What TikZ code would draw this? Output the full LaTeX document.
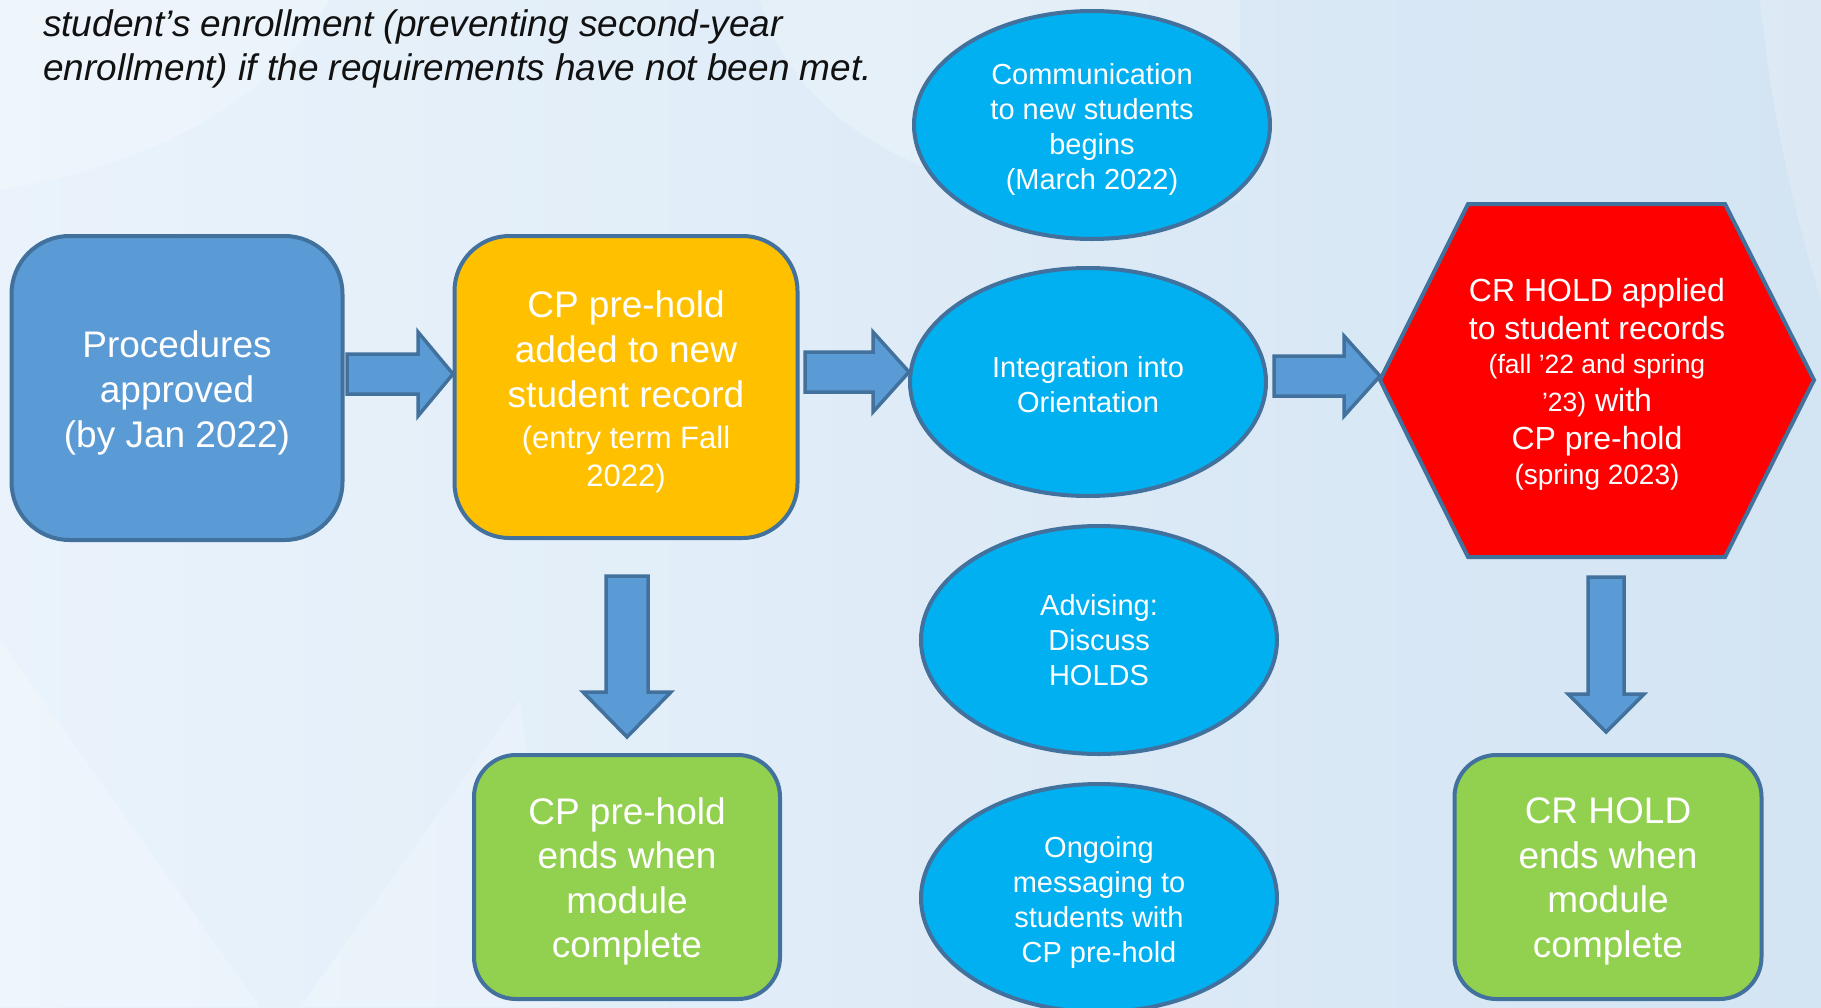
\documentclass[tikz,border=0pt]{standalone}
\usepackage{fontspec}
\setmainfont{Liberation Sans}
\usetikzlibrary{shapes.geometric}
\definecolor{bgA}{HTML}{EAF3FB}
\definecolor{bgB}{HTML}{D3E4F3}
\definecolor{edge}{HTML}{41719C}
\definecolor{boxblue}{HTML}{5B9BD5}
\definecolor{boxyellow}{HTML}{FFC000}
\definecolor{ellblue}{HTML}{00B0F0}
\definecolor{hexred}{HTML}{FF0000}
\definecolor{boxgreen}{HTML}{92D050}
\definecolor{notetext}{HTML}{111111}
\begin{document}
\begin{tikzpicture}[x=1pt,y=-1pt,
  base/.style={draw=edge, line width=4pt, inner sep=0pt},
  rbox/.style={base, rectangle, rounded corners=#1},
  oval/.style={base, ellipse, fill=ellblue, minimum width=356pt, minimum height=228pt},
  txt/.style={text=white, align=center, inner sep=0pt},
  ovaltext/.style={txt, font=\fontsize{29}{35}\selectfont},
  bigtext/.style={txt, font=\fontsize{37}{45}\selectfont},
  blockarrow/.style={draw=edge, line width=3.5pt, fill=boxblue, line join=miter},
  wash/.style={fill=white, opacity=0.22}
]
% background
\useasboundingbox (0,0) rectangle (1821,1007);
\shade[left color=bgA, right color=bgB] (0,0) rectangle (1821,1007);
\fill[wash] (0,0) -- (330,0) .. controls (260,120) and (120,170) .. (0,190) -- cycle;
\fill[wash] (760,0) .. controls (800,150) and (1000,230) .. (1240,200) -- (1240,0) -- cycle;
\fill[wash] (0,640) -- (260,1007) -- (0,1007) -- cycle;
\fill[wash] (300,1007) -- (520,700) -- (560,1007) -- cycle;
\fill[wash] (1760,0) -- (1821,0) -- (1821,300) .. controls (1790,200) and (1770,100) .. (1760,0) -- cycle;

% note
\node[anchor=base west, align=left, inner sep=0pt, text=notetext,
  font=\itshape\fontsize{37}{44}\selectfont] (note) at (43,80)
  {student’s enrollment (preventing second-year\\enrollment) if the requirements have not been met.};

% boxes
\node[rbox=58pt, fill=boxblue, minimum width=331pt, minimum height=304pt] (proc) at (177,388) {};
\node[bigtext] (proctext) at ([yshift=-4.5pt]proc.center)
  {Procedures\\approved\\(by Jan 2022)};
\node[rbox=55pt, fill=boxyellow, minimum width=343pt, minimum height=302pt] (prehold) at (626,387) {};
\node[bigtext] (preholdtext) at ([yshift=-4.5pt]prehold.center)
  {CP pre-hold\\added to new\\student record\\[-4pt]{\fontsize{31}{38}\selectfont (entry term Fall}\\[-7pt]{\fontsize{31}{38}\selectfont 2022)}};

% ellipses
\node[oval] (comm) at (1092,125) {};
\node[ovaltext] (commtext) at ([yshift=-4.5pt]comm.center) {Communication\\to new students\\begins\\(March 2022)};
\node[oval] (orient) at (1088,382) {};
\node[ovaltext] (orienttext) at ([yshift=-3pt]orient.center) {Integration into\\Orientation};
\node[oval] (advise) at (1099,640) {};
\node[ovaltext] (advisetext) at (advise.center) {Advising:\\Discuss\\HOLDS};
\node[oval] (ongoing) at (1099,898) {};
\node[ovaltext] (ongoingtext) at ([yshift=-4pt]ongoing.center) {Ongoing\\messaging to\\students with\\CP pre-hold};

% hexagon
\draw[draw=edge, line width=4pt, fill=hexred, line join=miter]
  (1380,380) -- (1468,204) -- (1725,204) -- (1814,380) -- (1725,557) -- (1468,557) -- cycle;
\node[txt, font=\fontsize{32}{38}\selectfont] (crhold) at (1597,384.5)
  {CR HOLD applied\\to student records\\[-4pt]{\fontsize{26.5}{34}\selectfont (fall ’22 and spring}\\
   {\fontsize{26.5}{34}\selectfont ’23)} with\\CP pre-hold\\[-3pt]{\fontsize{28}{35}\selectfont (spring 2023)}};

% green boxes
\node[rbox=42pt, fill=boxgreen, minimum width=306pt, minimum height=244pt] (cpend) at (627,877) {};
\node[txt, font=\fontsize{37}{44.5}\selectfont] (cpendtext) at ([yshift=-4.5pt]cpend.center)
  {CP pre-hold\\ends when\\module\\complete};
\node[rbox=42pt, fill=boxgreen, minimum width=307pt, minimum height=244pt] (crend) at (1608,877) {};
\node[txt, font=\fontsize{37}{44.5}\selectfont] (crendtext) at ([yshift=-4.5pt]crend.center)
  {CR HOLD\\ends when\\module\\complete};

% block arrows
\draw[blockarrow] (347,354) -- (418,354) -- (418,332) -- (453,374) -- (418,416) -- (418,394) -- (347,394) -- cycle;
\draw[blockarrow] (805,352) -- (873,352) -- (873,332) -- (909,372) -- (873,412) -- (873,392) -- (805,392) -- cycle;
\draw[blockarrow] (1274,356) -- (1344,356) -- (1344,336) -- (1380,376) -- (1344,416) -- (1344,396) -- (1274,396) -- cycle;
\draw[blockarrow] (606,576) -- (648,576) -- (648,692) -- (671,692) -- (627,737) -- (583,692) -- (606,692) -- cycle;
\draw[blockarrow] (1588,577) -- (1624,577) -- (1624,694) -- (1644,694) -- (1606,732) -- (1568,694) -- (1588,694) -- cycle;
\end{tikzpicture}
\end{document}
